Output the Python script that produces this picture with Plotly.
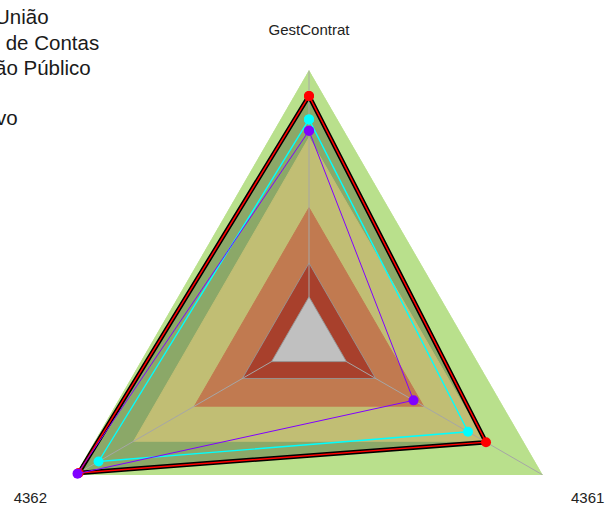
import plotly.graph_objects as go

# Axes of the radar
categories = ["GestContrat", "4361", "4362"]

# Reference zones: outer bound of each zone and its colour (outermost first)
band_names = ["Faixas", "Faixa 4", "Faixa 3", "Faixa 2", "Faixa 1"]
band_levels = [1.0, 0.75, 0.49, 0.285, 0.16]
band_colors = ["#b9e08c", "#c1be74", "#c17a50", "#a8402c", "#c0c0c0"]
band_outlined = [False, False, False, True, True]

# Series values (GestContrat, 4361, 4362)
governo_uniao = [0.904, 0.757, 0.985]
tribunal_contas = [0.817, 0.680, 0.900]
outro_orgao = [0.775, 0.447, 0.990]
legislativo = [0.904, 0.757, 0.985]

FONT = "Arial, Liberation Sans, sans-serif"
GRID = "#a6a6a6"


def closed(values):
    return list(values) + [values[0]]


theta = closed(categories)

fig = go.Figure()


def add_band(level, color, name, outlined, show):
    fig.add_trace(go.Scatterpolar(
        r=closed([level] * len(categories)), theta=theta,
        mode="lines", fill="toself", fillcolor=color,
        line=dict(color="rgba(150,150,150,0.9)" if outlined else color, width=1),
        name=name, legendgroup="faixas", legend="legend4", showlegend=show,
        hoverinfo="skip",
    ))


# outermost zone
add_band(band_levels[0], band_colors[0], band_names[0], band_outlined[0], True)

# area covered by the "Legislativo" series
fig.add_trace(go.Scatterpolar(
    r=closed(legislativo), theta=theta, mode="lines", fill="toself",
    fillcolor="#8ba868", line=dict(width=0, color="#8ba868"),
    showlegend=False, hoverinfo="skip",
))

# inner zones, spokes drawn just below the central one
for lvl, col, nm, ol in zip(band_levels[1:-1], band_colors[1:-1],
                            band_names[1:-1], band_outlined[1:-1]):
    add_band(lvl, col, nm, ol, False)

for cat in categories:
    fig.add_trace(go.Scatterpolar(
        r=[0, band_levels[0]], theta=[cat, cat], mode="lines",
        line=dict(color=GRID, width=1), showlegend=False, hoverinfo="skip",
    ))

add_band(band_levels[-1], band_colors[-1], band_names[-1], band_outlined[-1], False)

fig.add_trace(go.Scatterpolar(
    r=closed(legislativo), theta=theta, mode="lines",
    line=dict(color="#000000", width=4.5),
    name="Legislativo", legend="legend5",
))
fig.add_trace(go.Scatterpolar(
    r=closed(governo_uniao), theta=theta, mode="lines+markers",
    line=dict(color="#ff0000", width=1.5),
    marker=dict(color="#ff0000", size=10),
    name="Governo da União", legend="legend",
))
fig.add_trace(go.Scatterpolar(
    r=closed(tribunal_contas), theta=theta, mode="lines+markers",
    line=dict(color="#00ffff", width=1.4),
    marker=dict(color="#00ffff", size=10),
    name="Tribunal de Contas", legend="legend2",
))
fig.add_trace(go.Scatterpolar(
    r=closed(outro_orgao), theta=theta, mode="lines+markers",
    line=dict(color="#8000ff", width=1),
    marker=dict(color="#8000ff", size=10),
    name="Outro Órgão Público", legend="legend3",
))

legend_font = dict(family=FONT, size=20.5, color="#1a1a1a")


def legend_box(x, y):
    return dict(x=x, y=y, xanchor="left", yanchor="top", font=legend_font,
                bgcolor="rgba(0,0,0,0)")


fig.update_layout(
    width=606, height=620,
    margin=dict(l=39, r=27, t=70, b=10, autoexpand=False),
    paper_bgcolor="white",
    polar=dict(
        domain=dict(x=[0, 1], y=[0, 1]),
        bgcolor="white",
        gridshape="linear",
        radialaxis=dict(visible=False, range=[0, 1]),
        angularaxis=dict(
            type="category", categoryarray=categories,
            rotation=90, direction="clockwise",
            showline=False, showgrid=False,
            ticks="outside", ticklen=29, tickcolor="rgba(0,0,0,0)",
            tickfont=dict(family=FONT, size=15, color="#222222"),
        ),
    ),
    legend=legend_box(-0.3644, 1.1361),
    legend2=legend_box(-0.2820, 1.0889),
    legend3=legend_box(-0.3243, 1.0417),
    legend4=legend_box(-0.5000, 0.9954),
    legend5=legend_box(-0.2930, 0.9491),
    showlegend=True,
)

fig.write_html(
    "out.html",
    post_script=(
        "document.documentElement.style.overflow='hidden';"
        "document.body.style.overflow='hidden';"
        "document.body.style.margin='0';"
    ),
)
